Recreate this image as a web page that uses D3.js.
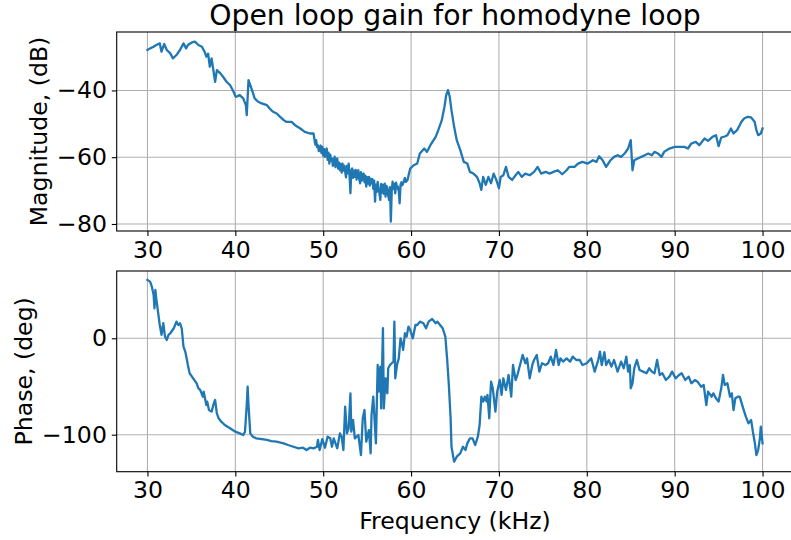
<!DOCTYPE html>
<html>
<head>
<meta charset="utf-8">
<script src="https://cdn.jsdelivr.net/npm/d3@7"></script>
<style>
  html, body { margin: 0; padding: 0; background: #fff; }
  svg { display: block; font-family: "DejaVu Sans", sans-serif; }
</style>
</head>
<body>
<svg id="chart" width="791" height="540"></svg>
<script>
// Frequency response of the homodyne loop (open loop gain)
const xTicks = [30, 40, 50, 60, 70, 80, 90, 100];
const magTicks = [-80, -60, -40];
const phaseTicks = [-100, 0];

const magFreq = [30.0,30.3,30.7,31.0,31.4,31.6,31.9,32.2,32.6,32.9,33.3,33.7,34.1,34.4,34.6,35.0,35.4,35.8,36.2,36.5,36.7,36.9,37.1,37.3,37.5,37.7,37.9,38.3,38.6,39.0,39.4,39.8,40.0,40.1,40.5,40.9,41.2,41.3,41.5,41.7,41.9,42.2,42.6,43.0,43.6,43.9,44.3,44.7,45.1,45.5,45.8,46.4,46.8,47.4,47.9,48.5,48.9,
  49.0,49.1,49.2,49.3,49.4,49.5,49.6,49.7,49.8,49.9,50.0,50.1,50.2,50.3,50.4,50.5,50.6,50.7,50.8,50.9,51.0,51.1,51.2,51.3,51.4,51.5,51.6,51.7,51.8,51.9,52.0,52.1,52.2,52.3,52.4,52.5,52.6,52.7,52.8,52.9,53.0,53.1,53.2,53.3,53.4,53.5,53.6,53.7,53.8,53.9,54.0,54.1,54.2,54.3,54.4,54.5,54.6,54.7,54.8,54.9,55.0,55.1,55.2,55.3,55.4,55.5,55.6,55.7,55.8,55.9,56.0,56.1,56.2,56.3,56.4,56.5,56.6,56.7,56.8,56.9,57.0,57.1,57.2,57.3,57.4,57.5,57.6,57.7,57.8,57.9,58.0,58.1,58.2,58.3,58.4,58.5,58.6,58.7,58.8,58.9,59.0,59.1,59.3,59.4,59.6,59.7,
  59.9,60.3,60.7,61.0,61.5,61.8,62.2,62.8,63.1,63.5,63.8,64.0,64.2,64.4,64.6,64.9,65.2,65.6,66.0,66.4,66.7,67.1,67.5,67.8,68.0,68.2,68.5,68.8,69.1,69.4,69.7,70.0,70.2,70.5,70.8,71.1,71.5,71.9,72.2,72.6,73.0,73.5,74.0,74.4,74.8,75.3,75.8,76.2,76.7,77.2,77.7,
  78.0,78.6,79.0,79.5,80.1,80.7,81.1,81.4,81.8,82.2,82.7,83.1,83.5,83.9,84.3,84.7,85.0,85.2,85.4,85.8,86.2,86.6,87.0,87.4,87.7,88.1,88.5,88.8,89.4,90.0,90.5,91.1,91.5,91.9,92.4,92.8,93.4,93.8,94.3,94.7,95.0,95.3,95.7,96.0,96.4,96.7,97.1,97.6,97.9,98.3,98.7,99.1,99.3,99.5,99.8,100.0];
const magDb = [-27.9,-27.4,-26.9,-26.4,-25.9,-28.4,-26.1,-27.9,-28.9,-30.4,-29.4,-27.9,-25.9,-27.4,-26.4,-25.7,-25.4,-26.4,-26.9,-28.4,-29.9,-29.0,-32.9,-30.4,-33.9,-37.4,-33.9,-34.9,-35.9,-37.4,-38.4,-40.4,-41.7,-41.9,-41.4,-42.4,-44.4,-47.4,-36.9,-38.4,-39.9,-42.4,-43.4,-43.9,-44.4,-45.4,-46.4,-46.9,-47.9,-48.9,-49.4,-49.4,-50.4,-51.4,-52.4,-52.9,-52.9,
  -54.6,-56.2,-54.9,-57.0,-56.4,-58.2,-57.9,-56.5,-58.8,-56.9,-59.5,-57.6,-59.9,-58.0,-57.4,-60.8,-58.6,-61.9,-59.2,-61.0,-60.4,-62.6,-61.9,-59.8,-63.0,-60.9,-60.4,-63.4,-61.6,-63.9,-62.0,-64.6,-61.9,-64.0,-62.5,-64.4,-66.0,-62.6,-64.8,-61.9,-65.5,-70.8,-64.0,-63.4,-66.2,-64.0,-65.9,-63.8,-66.7,-64.4,-63.9,-66.5,-67.8,-64.5,-67.0,-65.2,-64.9,-67.5,-65.5,-68.8,-66.0,-67.9,-65.9,-68.5,-66.4,-67.8,-66.6,-69.5,-67.0,-73.3,-68.2,-70.4,-67.4,-69.3,-70.8,-72.8,-68.0,-70.6,-68.3,-71.0,-67.9,-71.8,-68.6,-69.3,-71.5,-72.8,-69.0,-79.3,-70.0,-67.3,-69.5,-68.0,-70.8,-67.6,-69.4,-68.8,-70.2,-73.8,-68.3,-67.5,-68.4,-67.8,-66.2,-67.4,-66.8,-65.6,
  -63.4,-62.4,-61.9,-58.9,-57.4,-58.4,-56.4,-53.9,-51.9,-48.9,-44.9,-41.4,-39.9,-41.9,-45.9,-50.9,-54.9,-57.9,-61.4,-61.9,-64.4,-64.9,-65.9,-67.8,-69.8,-65.9,-68.3,-65.9,-67.8,-64.9,-66.8,-69.3,-65.9,-65.4,-62.9,-65.9,-66.8,-65.4,-64.4,-65.9,-64.9,-65.4,-64.4,-62.9,-64.9,-64.4,-64.9,-64.4,-63.9,-65.1,-63.9,
  -62.9,-62.9,-61.9,-61.4,-61.9,-60.9,-61.4,-59.7,-60.9,-62.9,-60.9,-59.9,-59.4,-59.9,-58.9,-57.4,-54.9,-63.9,-60.9,-60.4,-59.9,-59.4,-58.9,-59.4,-58.4,-58.9,-59.9,-58.4,-57.4,-56.9,-56.9,-56.9,-57.4,-55.9,-55.4,-56.4,-54.4,-55.1,-53.9,-53.4,-56.7,-54.1,-53.8,-53.4,-51.4,-52.9,-51.9,-49.4,-48.4,-47.9,-48.1,-49.4,-51.9,-53.4,-52.9,-51.4];

const phaseFreq = [30.0,30.3,30.5,30.7,30.8,30.9,31.0,31.2,31.4,31.6,31.8,32.0,32.2,32.4,32.6,33.0,33.3,33.5,33.7,33.9,34.1,34.3,34.5,34.6,34.8,35.2,35.6,35.8,36.0,36.3,36.4,36.7,36.8,37.0,37.3,37.5,37.7,37.9,38.1,38.4,38.8,39.4,40.0,40.5,40.9,41.1,41.3,41.4,41.5,41.7,42.0,42.4,43.0,43.6,44.1,44.7,45.5,46.0,46.6,47.2,47.7,48.1,48.5,48.9,49.3,49.4,49.6,49.9,50.2,50.5,
  50.8,51.0,51.2,51.6,51.9,52.1,52.3,52.5,52.7,52.9,53.1,53.2,53.4,53.6,54.0,54.3,54.5,54.7,54.9,55.2,55.4,55.5,55.7,56.0,56.2,56.3,56.5,56.6,56.8,56.9,57.1,57.3,57.4,57.6,57.8,58.0,58.1,58.2,58.4,58.6,58.8,59.0,59.1,59.3,59.5,59.7,59.9,60.2,60.5,60.7,61.0,61.4,61.7,62.0,62.4,62.8,63.0,63.3,63.6,63.9,64.1,64.3,64.5,64.6,64.9,65.2,65.6,65.9,66.2,66.4,66.7,67.0,67.3,67.6,67.8,68.0,68.2,68.4,68.6,68.7,68.9,69.1,69.3,69.6,69.8,70.1,70.3,70.5,70.8,71.1,71.4,71.6,71.9,72.1,72.4,72.7,73.0,73.2,73.5,73.8,74.0,74.3,74.6,74.9,75.3,75.6,75.9,76.2,76.5,76.8,77.0,77.3,77.7,
  78.1,78.4,78.8,79.2,79.5,80.0,80.5,80.9,81.3,81.5,81.7,82.0,82.2,82.5,82.8,83.1,83.5,83.9,84.2,84.5,84.7,84.9,85.0,85.2,85.4,85.7,86.0,86.4,86.8,87.1,87.4,87.7,88.0,88.3,88.6,89.0,89.4,89.7,90.1,90.5,90.8,91.2,91.6,91.9,92.3,92.6,93.0,93.3,93.6,93.8,94.2,94.4,94.7,95.0,95.3,95.5,95.7,96.0,96.3,96.5,96.7,96.9,97.2,97.4,97.8,98.1,98.4,98.7,98.9,99.1,99.3,99.5,99.7,99.8,100.0];
const phaseDeg = [60.6,58.8,53.6,45.0,31.1,50.2,41.5,27.7,13.8,3.5,15.6,1.7,-1.7,3.5,5.2,10.4,17.3,13.8,15.6,10.4,-8.7,-13.8,-22.5,-27.7,-36.3,-41.5,-46.7,-51.9,-53.6,-60.6,-55.4,-69.2,-65.7,-74.4,-76.1,-69.2,-64.0,-77.9,-83.0,-86.5,-90.0,-93.4,-96.9,-98.6,-100.3,-96.9,-69.2,-50.2,-69.2,-98.6,-102.1,-103.8,-104.5,-105.5,-106.6,-107.3,-109.0,-110.7,-112.5,-114.2,-113.5,-115.9,-113.5,-114.2,-112.5,-105.5,-115.9,-104.5,-113.5,-102.1,
  -103.8,-112.5,-103.8,-114.2,-98.6,-102.1,-115.9,-70.9,-98.6,-93.4,-57.1,-96.9,-84.8,-103.8,-100.3,-121.1,-83.0,-74.4,-107.3,-95.2,-119.4,-79.6,-60.6,-109.0,-27.7,-55.4,-29.4,-72.7,10.4,-72.7,-41.5,-57.1,-31.1,-27.7,-25.9,-24.2,17.3,-41.5,-27.7,-20.8,0,-6.9,-12.1,5.2,1.7,12.1,8.7,0,13.8,13.8,17.3,15.6,10.4,17.3,20.1,15.6,17.3,13.8,10.4,1.7,-20.8,-48.4,-83.0,-112.5,-128.0,-122.8,-119.4,-112.5,-115.9,-109.0,-103.8,-103.8,-110.7,-102.1,-90.0,-60.6,-65.7,-60.6,-65.7,-58.8,-83.0,-45.0,-51.9,-76.1,-55.4,-43.3,-58.8,-41.5,-53.6,-38.1,-60.6,-27.7,-43.3,-38.1,-27.7,-17.3,-25.9,-20.8,-41.5,-27.7,-22.5,-17.3,-34.6,-25.9,-27.7,-25.9,-19.0,-27.7,-12.1,-27.7,-20.8,-24.2,-20.8,
  -24.2,-19.0,-22.5,-22.5,-27.7,-25.9,-20.8,-34.6,-22.5,-13.8,-27.7,-14.5,-27.7,-22.5,-29.4,-22.5,-34.6,-24.2,-31.1,-19.0,-34.6,-27.7,-51.9,-46.7,-31.1,-22.5,-32.9,-34.6,-36.3,-31.1,-34.6,-36.3,-22.5,-38.1,-36.3,-43.3,-39.8,-34.6,-41.5,-38.1,-36.3,-43.3,-39.8,-46.7,-43.3,-45.0,-50.2,-48.4,-69.2,-55.4,-60.6,-57.1,-62.3,-65.7,-51.9,-38.1,-48.4,-46.7,-60.6,-57.1,-74.4,-62.3,-60.6,-60.6,-72.7,-81.3,-88.2,-84.8,-96.9,-107.3,-121.1,-115.9,-103.8,-91.7,-109.0];

const svg = d3.select("#chart");
const FS = 23.6;            // tick and axis label size
const LINE = "#1f77b4";
const GRID = "#b0b0b0";

const left = 116.7, right = 793.3;
const x = d3.scaleLinear().domain([26.5, 103.5]).range([left, right]);

const panels = [
  { top: 32, bottom: 231, domain: [-82.1, -22.5], ticks: magTicks,
    fx: magFreq, fy: magDb, label: "Magnitude, (dB)", labelX: 47 },
  { top: 271, bottom: 471.7, domain: [-138.4, 69.8], ticks: phaseTicks,
    fx: phaseFreq, fy: phaseDeg, label: "Phase, (deg)", labelX: 32 }
];

panels.forEach(p => {
  const y = d3.scaleLinear().domain(p.domain).range([p.bottom, p.top]);
  const g = svg.append("g");

  // grid
  g.append("g").selectAll("line").data(xTicks).join("line")
    .attr("x1", d => x(d)).attr("x2", d => x(d))
    .attr("y1", p.top).attr("y2", p.bottom)
    .attr("stroke", GRID).attr("stroke-width", 1.1);
  g.append("g").selectAll("line").data(p.ticks).join("line")
    .attr("x1", left).attr("x2", right)
    .attr("y1", d => y(d)).attr("y2", d => y(d))
    .attr("stroke", GRID).attr("stroke-width", 1.1);

  // data line
  const pts = p.fx.map((f, k) => [f, p.fy[k]]);
  g.append("path").datum(pts)
    .attr("d", d3.line().x(d => x(d[0])).y(d => y(d[1])))
    .attr("fill", "none").attr("stroke", LINE)
    .attr("stroke-width", 2.3).attr("stroke-linejoin", "round").attr("stroke-linecap", "square");

  // axes
  const xa = g.append("g").attr("transform", `translate(0,${p.bottom})`)
    .call(d3.axisBottom(x).tickValues(xTicks).tickFormat(d3.format("d"))
      .tickSize(4.9).tickPadding(4.9).tickSizeOuter(0));
  const ya = g.append("g").attr("transform", `translate(${left},0)`)
    .call(d3.axisLeft(y).tickValues(p.ticks).tickFormat(d3.format("d"))
      .tickSize(4.9).tickPadding(4.9).tickSizeOuter(0));
  [xa, ya].forEach(a => {
    a.select(".domain").remove();
    a.selectAll("line").attr("stroke", "#000").attr("stroke-width", 1.1);
    a.selectAll("text").attr("font-size", FS).attr("font-family", "DejaVu Sans").attr("fill", "#000");
  });

  // frame
  g.append("rect").attr("x", left).attr("y", p.top)
    .attr("width", right - left).attr("height", p.bottom - p.top)
    .attr("fill", "none").attr("stroke", "#000").attr("stroke-width", 1.1);

  // y label
  svg.append("text")
    .attr("transform", `translate(${p.labelX},${(p.top + p.bottom) / 2}) rotate(-90)`)
    .attr("text-anchor", "middle").attr("font-size", FS).attr("fill", "#000")
    .text(p.label);
});

svg.append("text").attr("x", (left + right) / 2).attr("y", 529)
  .attr("text-anchor", "middle").attr("font-size", FS).attr("fill", "#000")
  .text("Frequency (kHz)");

svg.append("text").attr("x", (left + right) / 2).attr("y", 25)
  .attr("text-anchor", "middle").attr("font-size", 28.3).attr("fill", "#000")
  .text("Open loop gain for homodyne loop");
</script>
</body>
</html>
